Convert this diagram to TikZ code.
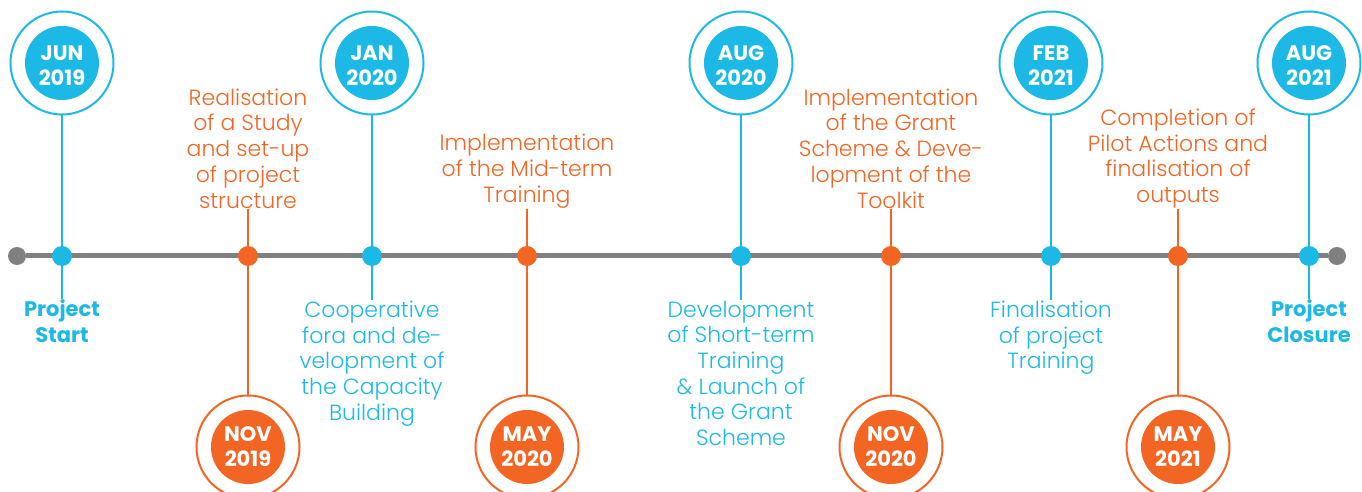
\documentclass[tikz,border=0pt]{standalone}
\usepackage{fontspec}
\setmainfont{Poppins}
\newfontfamily\lightfont{Poppins Light}
\usetikzlibrary{positioning,backgrounds}
\definecolor{TimeBlue}{RGB}{28,185,230}
\definecolor{TimeOrange}{RGB}{242,101,34}
\definecolor{TimeGray}{RGB}{128,128,130}
\tikzset{%
  ring/.style={%
    circle, draw, line width=1pt, minimum size=51.5pt, inner sep=0pt
  },
  date/.style={%
    circle, minimum size=37pt, inner sep=0pt,
    label={[datelabel, yshift=-1.5pt]center:#1}
  },
  lowdate/.style={%
    circle, minimum size=37pt, inner sep=0pt,
    label={[datelabel]center:#1}
  },
  datelabel/.style={%
    text=white, align=center, inner sep=0pt,
    font=\bfseries\fontsize{10.5}{12.5}\selectfont
  },
  dot/.style={circle, minimum size=10pt, inner sep=0pt},
  enddot/.style={circle, fill=TimeGray, minimum size=9pt, inner sep=0pt},
  event/.style={%
    align=center, inner sep=0pt, font=\lightfont\fontsize{11}{12.85}\selectfont
  },
  milestone/.style={%
    align=center, inner sep=0pt, font=\bfseries\fontsize{10.5}{13}\selectfont
  },
  stem/.style={line width=1pt},
  axis/.style={line width=2.5pt, TimeGray},
}

\begin{document}
\begin{tikzpicture}[x=0.5pt, y=-0.5pt]
    \useasboundingbox (0,0) rectangle (1362,492);

    % timeline dots
    \node (EndL)[enddot] at (17,256) {};
    \node (EndR)[enddot] at (1337,256) {};
    \node (DotJun19)[dot, fill=TimeBlue] at (62,256) {};
    \node (DotNov19)[dot, fill=TimeOrange] at (248,256) {};
    \node (DotJan20)[dot, fill=TimeBlue] at (372,256) {};
    \node (DotMay20)[dot, fill=TimeOrange] at (527,256) {};
    \node (DotAug20)[dot, fill=TimeBlue] at (741,256) {};
    \node (DotNov20)[dot, fill=TimeOrange] at (891,256) {};
    \node (DotFeb21)[dot, fill=TimeBlue] at (1051,256) {};
    \node (DotMay21)[dot, fill=TimeOrange] at (1178,256) {};
    \node (DotAug21)[dot, fill=TimeBlue] at (1309,256) {};

    % dates above the line
    \node (RingJun19)[ring, TimeBlue] at (62,63) {};
    \node (DateJun19)[date={JUN\\2019}, fill=TimeBlue] at (RingJun19) {};
    \node (RingJan20)[ring, TimeBlue] at (372,63) {};
    \node (DateJan20)[date={JAN\\2020}, fill=TimeBlue] at (RingJan20) {};
    \node (RingAug20)[ring, TimeBlue] at (741,63) {};
    \node (DateAug20)[date={AUG\\2020}, fill=TimeBlue] at (RingAug20) {};
    \node (RingFeb21)[ring, TimeBlue] at (1051,63) {};
    \node (DateFeb21)[date={FEB\\2021}, fill=TimeBlue] at (RingFeb21) {};
    \node (RingAug21)[ring, TimeBlue] at (1309,63) {};
    \node (DateAug21)[date={AUG\\2021}, fill=TimeBlue] at (RingAug21) {};

    % dates below the line
    \node (RingNov19)[ring, TimeOrange] at (248,447) {};
    \node (DateNov19)[lowdate={NOV\\2019}, fill=TimeOrange] at (RingNov19) {};
    \node (RingMay20)[ring, TimeOrange] at (527,447) {};
    \node (DateMay20)[lowdate={MAY\\2020}, fill=TimeOrange] at (RingMay20) {};
    \node (RingNov20)[ring, TimeOrange] at (891,447) {};
    \node (DateNov20)[lowdate={NOV\\2020}, fill=TimeOrange] at (RingNov20) {};
    \node (RingMay21)[ring, TimeOrange] at (1178,447) {};
    \node (DateMay21)[lowdate={MAY\\2021}, fill=TimeOrange] at (RingMay21) {};

    % orange events
    \node (StudyText)[event, TimeOrange, above=18.5pt of DotNov19]
        {Realisation\\of a Study\\and set-up\\of project\\structure};
    \node (MidTermText)[event, TimeOrange, above=18.5pt of DotMay20]
        {Implementation\\of the Mid-term\\Training};
    \node (GrantText)[event, TimeOrange, above=18.5pt of DotNov20]
        {Implementation\\of the Grant\\Scheme \& Deve-\\lopment of the\\Toolkit};
    \node (PilotText)[event, TimeOrange, above=18.5pt of DotMay21]
        {Completion of\\Pilot Actions and\\finalisation of\\outputs};

    % blue events
    \node (StartText)[milestone, TimeBlue, below=16.5pt of DotJun19]
        {Project\\Start};
    \node (ForaText)[event, TimeBlue, below=17pt of DotJan20]
        {Cooperative\\fora and de-\\velopment of\\the Capacity\\Building};
    \node (ShortTermText)[event, TimeBlue, below=17pt of DotAug20]
        {Development\\of Short-term\\Training\\\& Launch of\\the Grant\\Scheme};
    \node (FinalText)[event, TimeBlue, below=17pt of DotFeb21]
        {Finalisation\\of project\\Training};
    \node (ClosureText)[milestone, TimeBlue, below=16.5pt of DotAug21]
        {Project\\Closure};

    \begin{pgfonlayer}{background}
        \draw[axis] (EndL) -- (EndR);
        \draw[stem, TimeBlue] (RingJun19) -- (DotJun19) -- (StartText);
        \draw[stem, TimeBlue] (RingJan20) -- (DotJan20) -- (ForaText);
        \draw[stem, TimeBlue] (RingAug20) -- (DotAug20) -- (ShortTermText);
        \draw[stem, TimeBlue] (RingFeb21) -- (DotFeb21) -- (FinalText);
        \draw[stem, TimeBlue] (RingAug21) -- (DotAug21) -- (ClosureText);
        \draw[stem, TimeOrange] (StudyText) -- (DotNov19) -- (RingNov19);
        \draw[stem, TimeOrange] (MidTermText) -- (DotMay20) -- (RingMay20);
        \draw[stem, TimeOrange] (GrantText) -- (DotNov20) -- (RingNov20);
        \draw[stem, TimeOrange] (PilotText) -- (DotMay21) -- (RingMay21);
    \end{pgfonlayer}
\end{tikzpicture}
\end{document}
